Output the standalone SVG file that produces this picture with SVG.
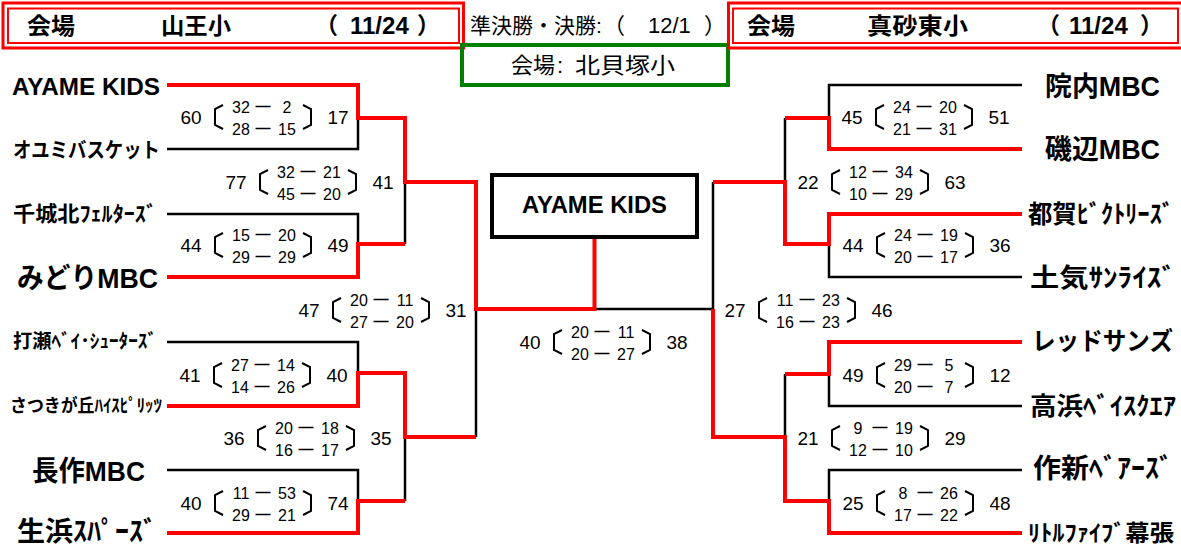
<svg xmlns="http://www.w3.org/2000/svg" xmlns:xlink="http://www.w3.org/1999/xlink" width="1181" height="550" viewBox="0 0 1181 550">
<style>
.r{fill:none;stroke:#ff0000;stroke-width:4;stroke-linejoin:miter;stroke-linecap:butt}
.k{fill:none;stroke:#000;stroke-width:2.5;stroke-linejoin:miter}
.hb{fill:none;stroke:#ff0000}
.tn{font-family:"Liberation Sans","Noto Sans CJK JP",sans-serif;font-weight:bold;fill:#000}
.hd{font-family:"Liberation Sans","Noto Sans CJK JP",sans-serif;font-size:23px;font-weight:bold;fill:#000}
.hn{font-family:"Liberation Sans","Noto Sans CJK JP",sans-serif;font-size:22px;fill:#000}
.s{font-family:"Liberation Sans","Noto Sans CJK JP",sans-serif;font-size:16px;text-anchor:middle;fill:#000}
.sd{font-family:"Liberation Sans","Noto Sans CJK JP",sans-serif;font-size:19px;text-anchor:middle;fill:#000}
.ds{font-family:"Liberation Sans",sans-serif;font-size:15px;font-weight:bold;text-anchor:middle;fill:#000}
.br{fill:none;stroke:#000;stroke-width:2}
</style>
<defs>
<g id="brk">
<path class="br" d="M32,-12 L24,-8 V8 L32,12"/>
<path class="br" d="M112,-12 L120,-8 V8 L112,12"/>
</g>
</defs>
<rect width="1181" height="550" fill="#fff"/>

<!-- header -->
<g id="header-left">
<rect class="hb" x="3" y="3" width="460.5" height="45" stroke-width="3"/>
<rect class="hb" x="8" y="8.5" width="451" height="34.5" stroke-width="2"/>
<text class="hd" x="27" y="34" textLength="48" lengthAdjust="spacingAndGlyphs">会場</text>
<text class="hd" x="161" y="34" textLength="70" lengthAdjust="spacingAndGlyphs">山王小</text>
<text class="hd" x="315" y="34">（ <tspan x="350" font-size="24">11/24</tspan> <tspan x="417">）</tspan></text>
</g>
<g id="header-final">
<text class="hn" x="470" y="33"><tspan font-size="21">準決勝・決勝:</tspan><tspan x="603">（ </tspan><tspan x="648">12/1</tspan> <tspan x="704">）</tspan></text>
</g>
<g id="venue-final">
<rect x="462" y="45" width="266" height="40" fill="none" stroke="#008000" stroke-width="4"/>
<text class="hn" x="511" y="73" font-size="23">会場<tspan x="557">:</tspan><tspan x="575" textLength="100" lengthAdjust="spacingAndGlyphs">北貝塚小</tspan></text>
</g>
<g id="header-right">
<rect class="hb" x="728.5" y="3" width="455" height="45" stroke-width="3"/>
<rect class="hb" x="733" y="8.5" width="445" height="34.5" stroke-width="2"/>
<text class="hd" x="747" y="34" textLength="48" lengthAdjust="spacingAndGlyphs">会場</text>
<text class="hd" x="867" y="34" textLength="101" lengthAdjust="spacingAndGlyphs">真砂東小</text>
<text class="hd" x="1037" y="34">（ <tspan x="1069" font-size="24">11/24</tspan> <tspan x="1140">）</tspan></text>
</g>

<!-- connectors -->
<g id="connectors">
<path class="k" d="M167,149 H358 V118"/>
<path class="k" d="M167,214 H358 V244"/>
<path class="k" d="M405,244 V182"/>
<path class="k" d="M167,342 H358 V373"/>
<path class="k" d="M476,437 V309"/>
<path class="k" d="M167,470 H358 V501"/>
<path class="k" d="M405,501 V437"/>
<path class="k" d="M594,309 H713"/>
<path class="k" d="M713,309 V182"/>
<path class="k" d="M1022,85 H829 V118"/>
<path class="k" d="M785,118 V182"/>
<path class="k" d="M829,244 V277 H1022"/>
<path class="k" d="M785,437 V374"/>
<path class="k" d="M829,374 V406 H1022"/>
<path class="k" d="M829,501 V470 H1022"/>
<path class="r" d="M167,85 H358 V118 H405 V182 H476 V309 H594.5 V238"/>
<path class="r" d="M167,277 H358 V244 H405"/>
<path class="r" d="M167,406 H358 V373 H405 V437 H476"/>
<path class="r" d="M167,533 H358 V501 H405"/>
<path class="r" d="M1022,149 H829 V118 H785"/>
<path class="r" d="M713,182 H785 V244 H829 V214 H1022"/>
<path class="r" d="M713,309 V437 H785 V501 H829 V533 H1022"/>
<path class="r" d="M785,374 H829 V342 H1022"/>
</g>

<!-- champion -->
<g id="champion">
<rect x="492" y="175" width="205" height="62" fill="#fff" stroke="#000" stroke-width="4"/>
<text class="tn" x="522" y="213" font-size="24" textLength="145" lengthAdjust="spacingAndGlyphs">AYAME KIDS</text>
</g>

<!-- left teams -->
<g id="team-ayame-kids"><text class="tn" x="12" y="95" font-size="24" textLength="148" lengthAdjust="spacingAndGlyphs">AYAME KIDS</text></g>
<g id="team-oyumi"><text class="tn" x="13" y="157" font-size="21" textLength="147" lengthAdjust="spacingAndGlyphs">オユミバスケット</text></g>
<g id="team-chishirokita"><text class="tn" x="13" y="221" font-size="21" textLength="144" lengthAdjust="spacingAndGlyphs">千城北ﾌｪﾙﾀｰｽﾞ</text></g>
<g id="team-midori"><text class="tn" x="17" y="288" font-size="28" textLength="141" lengthAdjust="spacingAndGlyphs">みどりMBC</text></g>
<g id="team-utase"><text class="tn" x="13" y="348" font-size="19" textLength="144" lengthAdjust="spacingAndGlyphs">打瀬ﾍﾞｲ･ｼｭｰﾀｰｽﾞ</text></g>
<g id="team-satsukigaoka"><text class="tn" x="10" y="412" font-size="18" textLength="152" lengthAdjust="spacingAndGlyphs">さつきが丘ﾊｲｽﾋﾟﾘｯﾂ</text></g>
<g id="team-nagasaku"><text class="tn" x="32" y="481" font-size="28" textLength="113" lengthAdjust="spacingAndGlyphs">長作MBC</text></g>
<g id="team-oihama"><text class="tn" x="17" y="541" font-size="27" textLength="140" lengthAdjust="spacingAndGlyphs">生浜ｽﾊﾟｰｽﾞ</text></g>

<!-- right teams -->
<g id="team-innai"><text class="tn" x="1045" y="96" font-size="27" textLength="115" lengthAdjust="spacingAndGlyphs">院内MBC</text></g>
<g id="team-isobe"><text class="tn" x="1045" y="159" font-size="27" textLength="115" lengthAdjust="spacingAndGlyphs">磯辺MBC</text></g>
<g id="team-tsuga"><text class="tn" x="1028" y="223" font-size="25" textLength="146" lengthAdjust="spacingAndGlyphs">都賀ﾋﾞｸﾄﾘｰｽﾞ</text></g>
<g id="team-toke"><text class="tn" x="1030" y="287" font-size="26" textLength="146" lengthAdjust="spacingAndGlyphs">土気ｻﾝﾗｲｽﾞ</text></g>
<g id="team-redsuns"><text class="tn" x="1032" y="350" font-size="25" textLength="141" lengthAdjust="spacingAndGlyphs">レッドサンズ</text></g>
<g id="team-takahama"><text class="tn" x="1030" y="415" font-size="25" textLength="146" lengthAdjust="spacingAndGlyphs">高浜ﾍﾞｲｽｸｴｱ</text></g>
<g id="team-sakushin"><text class="tn" x="1033" y="478" font-size="27" textLength="140" lengthAdjust="spacingAndGlyphs">作新ﾍﾞｱｰｽﾞ</text></g>
<g id="team-little-five"><text class="tn" x="1028" y="541" font-size="23" textLength="146" lengthAdjust="spacingAndGlyphs">ﾘﾄﾙﾌｧｲﾌﾞ幕張</text></g>

<!-- scores -->
<g id="score-L1"><use xlink:href="#brk" transform="translate(191,117)"/>
<text class="sd" x="191" y="123.5">60</text><text class="s" x="241" y="113">32</text><text class="ds" x="263" y="111">—</text><text class="s" x="287" y="113">2</text>
<text class="s" x="241" y="135">28</text><text class="ds" x="263" y="133">—</text><text class="s" x="287" y="135">15</text><text class="sd" x="338" y="123.5">17</text></g>
<g id="score-L2"><use xlink:href="#brk" transform="translate(236,182)"/>
<text class="sd" x="236" y="188.5">77</text><text class="s" x="286" y="178">32</text><text class="ds" x="308" y="176">—</text><text class="s" x="332" y="178">21</text>
<text class="s" x="286" y="200">45</text><text class="ds" x="308" y="198">—</text><text class="s" x="332" y="200">20</text><text class="sd" x="383" y="188.5">41</text></g>
<g id="score-L3"><use xlink:href="#brk" transform="translate(191,245)"/>
<text class="sd" x="191" y="251.5">44</text><text class="s" x="241" y="241">15</text><text class="ds" x="263" y="239">—</text><text class="s" x="287" y="241">20</text>
<text class="s" x="241" y="263">29</text><text class="ds" x="263" y="261">—</text><text class="s" x="287" y="263">29</text><text class="sd" x="338" y="251.5">49</text></g>
<g id="score-L4"><use xlink:href="#brk" transform="translate(309,310)"/>
<text class="sd" x="309" y="316.5">47</text><text class="s" x="359" y="306">20</text><text class="ds" x="381" y="304">—</text><text class="s" x="405" y="306">11</text>
<text class="s" x="359" y="328">27</text><text class="ds" x="381" y="326">—</text><text class="s" x="405" y="328">20</text><text class="sd" x="456" y="316.5">31</text></g>
<g id="score-L5"><use xlink:href="#brk" transform="translate(190,375)"/>
<text class="sd" x="190" y="381.5">41</text><text class="s" x="240" y="371">27</text><text class="ds" x="262" y="369">—</text><text class="s" x="286" y="371">14</text>
<text class="s" x="240" y="393">14</text><text class="ds" x="262" y="391">—</text><text class="s" x="286" y="393">26</text><text class="sd" x="337" y="381.5">40</text></g>
<g id="score-L6"><use xlink:href="#brk" transform="translate(234,438)"/>
<text class="sd" x="234" y="444.5">36</text><text class="s" x="284" y="434">20</text><text class="ds" x="306" y="432">—</text><text class="s" x="330" y="434">18</text>
<text class="s" x="284" y="456">16</text><text class="ds" x="306" y="454">—</text><text class="s" x="330" y="456">17</text><text class="sd" x="381" y="444.5">35</text></g>
<g id="score-L7"><use xlink:href="#brk" transform="translate(191,503)"/>
<text class="sd" x="191" y="509.5">40</text><text class="s" x="241" y="499">11</text><text class="ds" x="263" y="497">—</text><text class="s" x="287" y="499">53</text>
<text class="s" x="241" y="521">29</text><text class="ds" x="263" y="519">—</text><text class="s" x="287" y="521">21</text><text class="sd" x="338" y="509.5">74</text></g>
<g id="score-F"><use xlink:href="#brk" transform="translate(530,342)"/>
<text class="sd" x="530" y="348.5">40</text><text class="s" x="580" y="338">20</text><text class="ds" x="602" y="336">—</text><text class="s" x="626" y="338">11</text>
<text class="s" x="580" y="360">20</text><text class="ds" x="602" y="358">—</text><text class="s" x="626" y="360">27</text><text class="sd" x="677" y="348.5">38</text></g>
<g id="score-R1"><use xlink:href="#brk" transform="translate(852,117)"/>
<text class="sd" x="852" y="123.5">45</text><text class="s" x="902" y="113">24</text><text class="ds" x="924" y="111">—</text><text class="s" x="948" y="113">20</text>
<text class="s" x="902" y="135">21</text><text class="ds" x="924" y="133">—</text><text class="s" x="948" y="135">31</text><text class="sd" x="999" y="123.5">51</text></g>
<g id="score-R2"><use xlink:href="#brk" transform="translate(808,182)"/>
<text class="sd" x="808" y="188.5">22</text><text class="s" x="858" y="178">12</text><text class="ds" x="880" y="176">—</text><text class="s" x="904" y="178">34</text>
<text class="s" x="858" y="200">10</text><text class="ds" x="880" y="198">—</text><text class="s" x="904" y="200">29</text><text class="sd" x="955" y="188.5">63</text></g>
<g id="score-R3"><use xlink:href="#brk" transform="translate(853,245)"/>
<text class="sd" x="853" y="251.5">44</text><text class="s" x="903" y="241">24</text><text class="ds" x="925" y="239">—</text><text class="s" x="949" y="241">19</text>
<text class="s" x="903" y="263">20</text><text class="ds" x="925" y="261">—</text><text class="s" x="949" y="263">17</text><text class="sd" x="1000" y="251.5">36</text></g>
<g id="score-R4"><use xlink:href="#brk" transform="translate(735,310)"/>
<text class="sd" x="735" y="316.5">27</text><text class="s" x="785" y="306">11</text><text class="ds" x="807" y="304">—</text><text class="s" x="831" y="306">23</text>
<text class="s" x="785" y="328">16</text><text class="ds" x="807" y="326">—</text><text class="s" x="831" y="328">23</text><text class="sd" x="882" y="316.5">46</text></g>
<g id="score-R5"><use xlink:href="#brk" transform="translate(853,375)"/>
<text class="sd" x="853" y="381.5">49</text><text class="s" x="903" y="371">29</text><text class="ds" x="925" y="369">—</text><text class="s" x="949" y="371">5</text>
<text class="s" x="903" y="393">20</text><text class="ds" x="925" y="391">—</text><text class="s" x="949" y="393">7</text><text class="sd" x="1000" y="381.5">12</text></g>
<g id="score-R6"><use xlink:href="#brk" transform="translate(808,438)"/>
<text class="sd" x="808" y="444.5">21</text><text class="s" x="858" y="434">9</text><text class="ds" x="880" y="432">—</text><text class="s" x="904" y="434">19</text>
<text class="s" x="858" y="456">12</text><text class="ds" x="880" y="454">—</text><text class="s" x="904" y="456">10</text><text class="sd" x="955" y="444.5">29</text></g>
<g id="score-R7"><use xlink:href="#brk" transform="translate(853,503)"/>
<text class="sd" x="853" y="509.5">25</text><text class="s" x="903" y="499">8</text><text class="ds" x="925" y="497">—</text><text class="s" x="949" y="499">26</text>
<text class="s" x="903" y="521">17</text><text class="ds" x="925" y="519">—</text><text class="s" x="949" y="521">22</text><text class="sd" x="1000" y="509.5">48</text></g>
</svg>
